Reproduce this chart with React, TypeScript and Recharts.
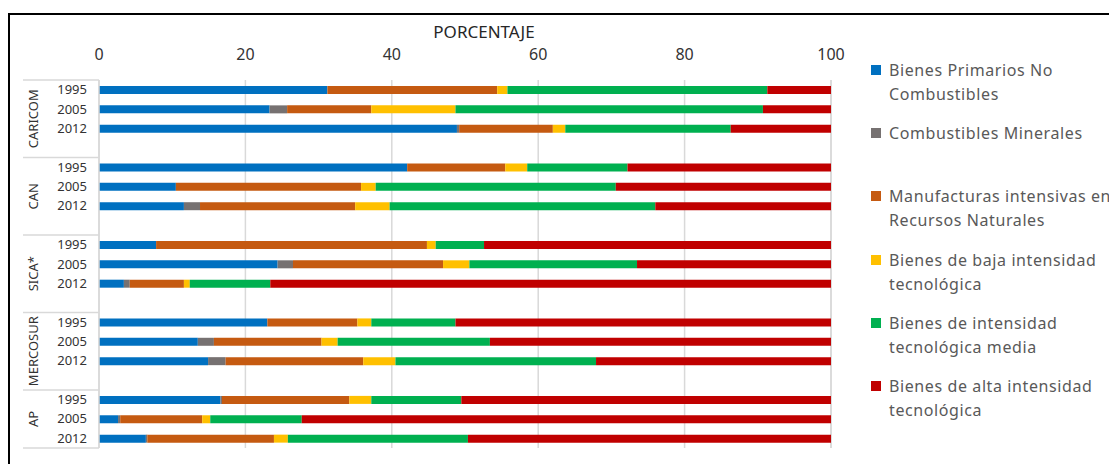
import React from "react";
import { BarChart, Bar, XAxis, YAxis, CartesianGrid } from "recharts";

const groups = ["CARICOM", "CAN", "SICA*", "MERCOSUR", "AP"];
const years = ["1995", "2005", "2012"];
const xTicks = [0, 20, 40, 60, 80, 100];

const primarios = [31.2, 23.3, 48.9, 42.1, 10.5, 11.6, 7.8, 24.4, 3.4, 23.0, 13.5, 14.9, 16.6, 2.6, 6.4];
const combustibles = [0, 2.4, 0.3, 0, 0, 2.2, 0, 2.1, 0.8, 0, 2.2, 2.4, 0.2, 0.3, 0.2];
const manufacturas = [23.2, 11.5, 12.8, 13.4, 25.3, 21.2, 37.0, 20.5, 7.4, 12.3, 14.7, 18.8, 17.4, 11.2, 17.3];
const baja = [1.4, 11.5, 1.7, 3.0, 2.0, 4.7, 1.2, 3.6, 0.8, 1.9, 2.2, 4.4, 3.0, 1.1, 1.9];
const media = [35.5, 42.0, 22.6, 13.7, 32.8, 36.3, 6.6, 22.9, 11.0, 11.5, 20.8, 27.4, 12.3, 12.5, 24.6];
const alta = [8.7, 9.3, 13.7, 27.8, 29.4, 24.0, 47.4, 26.5, 76.6, 51.3, 46.6, 32.1, 50.5, 72.3, 49.6];

const series = [
  { key: "primarios", values: primarios, name: "Bienes Primarios No Combustibles", lines: ["Bienes Primarios No", "Combustibles"], color: "#0070C0" },
  { key: "combustibles", values: combustibles, name: "Combustibles Minerales", lines: ["Combustibles Minerales"], color: "#767171" },
  { key: "manufacturas", values: manufacturas, name: "Manufacturas intensivas en Recursos Naturales", lines: ["Manufacturas intensivas en", "Recursos Naturales"], color: "#C55A11" },
  { key: "baja", values: baja, name: "Bienes de baja intensidad tecnológica", lines: ["Bienes de baja intensidad", "tecnológica"], color: "#FFC000" },
  { key: "media", values: media, name: "Bienes de intensidad tecnológica media", lines: ["Bienes de intensidad", "tecnológica media"], color: "#00B050" },
  { key: "alta", values: alta, name: "Bienes de alta intensidad tecnológica", lines: ["Bienes de alta intensidad", "tecnológica"], color: "#C00000" },
];

type Row = { [k: string]: string | number | null };
const rows: Row[] = [];
groups.forEach((g, gi) => {
  years.forEach((y, yi) => {
    const idx = gi * years.length + yi;
    const r: Row = { key: `${g}-${y}`, year: y, group: g };
    series.forEach((s) => {
      r[s.key] = s.values[idx];
    });
    rows.push(r);
  });
  if (gi < groups.length - 1) {
    rows.push({ key: `gap-${g}`, year: "", group: g });
  }
});

const FONT = "'Noto Sans', 'Open Sans', sans-serif";
const CHART_W = 1109;
const CHART_H = 464;
const MARGIN = { top: 0, right: 278, bottom: 16, left: 0 };
const X_AXIS_H = 80;
const Y_AXIS_W = 99;
const PLOT_H = CHART_H - MARGIN.top - MARGIN.bottom - X_AXIS_H;
const BAND = PLOT_H / rows.length;
const SEP_X0 = 23;
const GROUP_LABEL_X = 33;
const LINE_COLOR = "#d9d9d9";

const XTick = (props: any) => {
  const { x, y, payload } = props;
  return (
    <text x={x} y={y} textAnchor="middle" fontSize={16} fill="#333333" fontFamily={FONT}>
      {payload.value}
    </text>
  );
};

const groupStarts: number[] = [];
rows.forEach((r, i) => {
  if (i === 0 || rows[i - 1].group !== r.group) groupStarts.push(i);
});

const YTick = (props: any) => {
  const { x, y, payload, index } = props;
  const row = rows.find((r) => r.key === payload.value);
  const label = row ? (row.year as string) : "";
  const elems: React.ReactNode[] = [];
  if (label) {
    elems.push(
      <text key="t" x={x} y={y} dy="0.35em" textAnchor="end" fontSize={13} fill="#333333" fontFamily={FONT}>
        {label}
      </text>
    );
  }
  const gPos = groupStarts.indexOf(index);
  if (gPos >= 0) {
    const next = gPos + 1 < groupStarts.length ? groupStarts[gPos + 1] : rows.length;
    const span = next - index;
    const top = y - BAND / 2;
    const cy = top + (span * BAND) / 2;
    elems.push(
      <line key="l" x1={SEP_X0} x2={Y_AXIS_W} y1={top} y2={top} stroke={LINE_COLOR} strokeWidth={1.5} />
    );
    elems.push(
      <text
        key="g"
        x={GROUP_LABEL_X}
        y={cy}
        textAnchor="middle"
        dominantBaseline="central"
        transform={`rotate(-90, ${GROUP_LABEL_X}, ${cy})`}
        fontSize={13}
        fill="#333333"
        fontFamily={FONT}
      >
        {rows[index].group as string}
      </text>
    );
  }
  if (index === rows.length - 1) {
    const bottom = y + BAND / 2;
    elems.push(
      <line key="b" x1={SEP_X0} x2={Y_AXIS_W} y1={bottom} y2={bottom} stroke={LINE_COLOR} strokeWidth={1.5} />
    );
  }
  return <g>{elems}</g>;
};

const LegendBlock = () => (
  <div
    style={{
      position: "absolute",
      left: 871,
      top: 58,
      width: 300,
      fontFamily: FONT,
      fontSize: 16,
      letterSpacing: "0.6px",
      color: "#595959",
    }}
  >
    {series.map((s) => (
      <div key={s.key} style={{ height: 63.2, display: "flex", alignItems: "flex-start" }}>
        <div style={{ width: 10, height: 10, background: s.color, marginTop: 7, marginRight: 8, flex: "0 0 auto" }} />
        <div style={{ lineHeight: "24px", whiteSpace: "nowrap" }}>
          {s.lines.map((l, i) => (
            <div key={i}>{l}</div>
          ))}
        </div>
      </div>
    ))}
  </div>
);

export default function App() {
  return (
    <div
      style={{
        position: "fixed",
        left: 0,
        top: 0,
        width: CHART_W,
        height: CHART_H,
        overflow: "hidden",
        background: "#fff",
        fontFamily: FONT,
      }}
    >
      <div
        style={{
          position: "absolute",
          left: 8,
          top: 13,
          width: 1300,
          height: 600,
          border: "2px solid #000",
          boxSizing: "border-box",
        }}
      />
      <div style={{ position: "absolute", left: 0, top: 0 }}>
        <BarChart width={CHART_W} height={CHART_H} data={rows} layout="vertical" margin={MARGIN} barCategoryGap={0}>
          <CartesianGrid horizontal={false} vertical={true} stroke={LINE_COLOR} strokeWidth={1.5} />
          <XAxis
            type="number"
            orientation="top"
            domain={[0, 100]}
            ticks={xTicks}
            height={X_AXIS_H}
            axisLine={false}
            tickLine={false}
            tickSize={0}
            tickMargin={20}
            tick={<XTick />}
            label={{
              content: () => (
                <text x={484} y={38} textAnchor="middle" fontSize={17} fill="#262626" fontFamily={FONT}>
                  PORCENTAJE
                </text>
              ),
            }}
          />
          <YAxis
            type="category"
            dataKey="key"
            width={Y_AXIS_W}
            interval={0}
            axisLine={{ stroke: LINE_COLOR, strokeWidth: 1.5 }}
            tickLine={false}
            tickSize={0}
            tickMargin={12}
            tick={<YTick />}
          />
          {series.map((s) => (
            <Bar
              key={s.key}
              dataKey={s.key}
              name={s.name}
              stackId="a"
              fill={s.color}
              barSize={8}
              isAnimationActive={false}
            />
          ))}
        </BarChart>
      </div>
      <LegendBlock />
    </div>
  );
}
